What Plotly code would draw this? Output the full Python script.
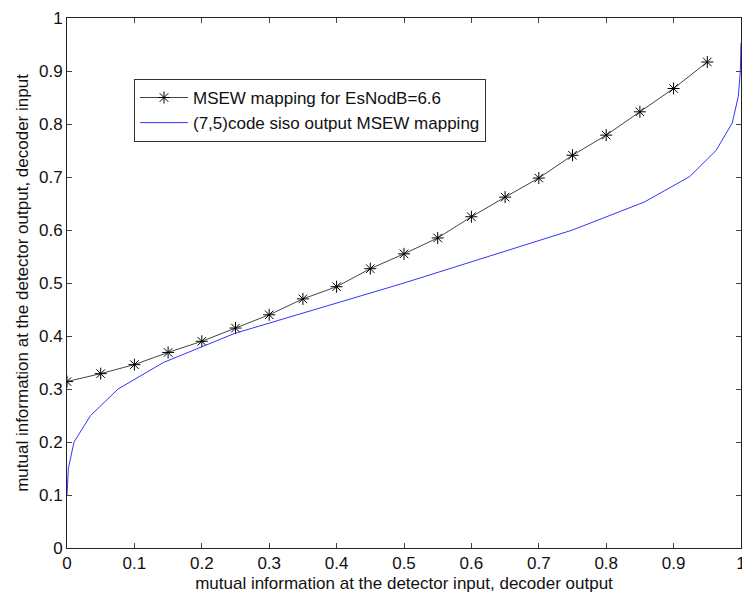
import plotly.graph_objects as go

# MSEW mapping for EsNodB=6.6 (black, asterisk markers)
msew_x = [0.0, 0.05, 0.1, 0.15, 0.2, 0.25, 0.3, 0.35, 0.4, 0.45,
          0.5, 0.55, 0.6, 0.65, 0.7, 0.75, 0.8, 0.85, 0.9, 0.95]
msew_y = [0.314, 0.329, 0.346, 0.369, 0.390, 0.415, 0.440, 0.470, 0.493, 0.527,
          0.555, 0.585, 0.625, 0.662, 0.698, 0.741, 0.779, 0.823, 0.867, 0.917]

# (7,5)code siso output MSEW mapping (blue)
siso_x = [0.0, 0.002, 0.0104, 0.035, 0.0758, 0.143, 0.249, 0.5, 0.75, 0.857,
          0.924, 0.963, 0.987, 0.996, 0.999, 1.0]
siso_y = [0.10, 0.15, 0.20, 0.25, 0.30, 0.35, 0.405, 0.50, 0.60, 0.653,
          0.701, 0.750, 0.802, 0.852, 0.90, 0.953]

tick_vals = [0, 0.1, 0.2, 0.3, 0.4, 0.5, 0.6, 0.7, 0.8, 0.9, 1]
tick_text = ["0", "0.1", "0.2", "0.3", "0.4", "0.5", "0.6", "0.7", "0.8", "0.9", "1"]

fig = go.Figure()
fig.add_trace(go.Scatter(
    x=msew_x, y=msew_y, mode="lines+markers",
    name="MSEW mapping for EsNodB=6.6",
    line=dict(color="#444444", width=1),
    marker=dict(symbol="asterisk-open", size=10, color="black",
                line=dict(color="black", width=1)),
))
fig.add_trace(go.Scatter(
    x=siso_x, y=siso_y, mode="lines",
    name="(7,5)code siso output MSEW mapping",
    line=dict(color="#3333ff", width=1),
))

FAM = "Liberation Sans, Arial, sans-serif"
tickfont = dict(family=FAM, size=17, color="#111")
titlefont = dict(family=FAM, size=17, color="#111")
axis_common = dict(
    range=[0, 1], tickvals=tick_vals, ticktext=tick_text,
    ticks="inside", ticklen=5, tickcolor="#444", tickwidth=1,
    showline=True, linecolor="#222", linewidth=1, mirror="ticks",
    showgrid=False, zeroline=False, tickfont=tickfont,
    ticklabeloverflow="allow", automargin=False,
)

fig.update_layout(
    width=742, height=594,
    margin=dict(l=67, r=1, t=18, b=46),
    paper_bgcolor="white", plot_bgcolor="white",
    font=dict(family=FAM, size=17, color="#111"),
    showlegend=True,
    legend=dict(
        x=0.0994, y=0.885, xanchor="left", yanchor="top",
        bgcolor="white", bordercolor="#333", borderwidth=1,
        font=dict(family=FAM, size=17, color="#111"),
        tracegroupgap=0, itemwidth=48,
    ),
    xaxis=dict(axis_common,
               title=dict(text="mutual information at the detector input, decoder output",
                          font=titlefont, standoff=4)),
    yaxis=dict(axis_common,
               title=dict(text="mutual information at the detector output, decoder input",
                          font=titlefont, standoff=6)),
)

fig.write_html("out.html")
